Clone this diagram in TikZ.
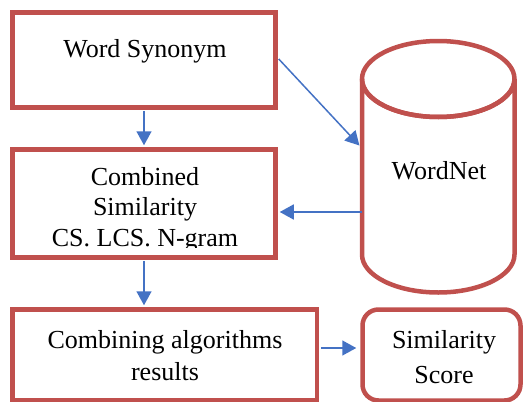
\documentclass[tikz,border=0pt]{standalone}
\usepackage{fontspec}
\setmainfont{Liberation Serif}
\usetikzlibrary{arrows.meta}
\definecolor{boxred}{RGB}{192,80,77}
\definecolor{flowblue}{RGB}{68,114,196}
\begin{document}
\begin{tikzpicture}[x=1pt,y=-1pt,
  frame/.style={draw=boxred,line width=4.5pt,fill=white,inner sep=0pt,minimum width=#1},
  lbl/.style={anchor=base,inner sep=0pt,font=\fontsize{26}{31}\selectfont},
  flow/.style={draw=flowblue,line width=1.5pt,shorten >=2pt,-{Triangle[length=14pt,width=15pt]}}]
\useasboundingbox (0,0) rectangle (523,402);

% process boxes
\node (syn) [frame=263pt,minimum height=95pt] at (144,60) {};
\node (comb) [frame=263pt,minimum height=108pt] at (144,203.5) {};
\node (res) [frame=304.5pt,minimum height=91pt] at (164.75,355) {};
\node (score) [frame=158pt,minimum height=91pt,rounded corners=16pt] at (441.5,355) {};

% WordNet database drum
\draw[boxred,line width=4.5pt,fill=white]
  (362,79) -- (362,254.5) arc[start angle=180,end angle=360,x radius=76.25,y radius=-38]
  -- (514.5,79) arc[start angle=0,end angle=360,x radius=76.25,y radius=-38];
\draw[boxred,line width=4.5pt] (362,79) arc[start angle=180,end angle=360,x radius=76.25,y radius=-38];
\node (wn) [inner sep=0pt,minimum width=152.5pt,minimum height=213.5pt] at (438.25,167) {};

% labels
\node (tsyn) [lbl] at (145,57) {Word Synonym};
\node (tc1) [lbl] at (145,185) {Combined};
\node (tc2) [lbl] at (145,215.5) {Similarity};
\begin{scope}
  \clip (20,150) rectangle (270,247);
  \node (tc3) [lbl] at (145,246) {CS. LCS. N-gram};
\end{scope}
\node (tr1) [lbl] at (165,348) {Combining algorithms};
\node (tr2) [lbl] at (165,380) {results};
\node (ts1) [lbl] at (444,348) {Similarity};
\node (ts2) [lbl] at (444,383) {Score};
\node (twn) [lbl] at (439,179) {WordNet};

% connectors
\coordinate (wnin) at ([yshift=20pt,xshift=-1pt]wn.west);
\coordinate (wnout) at ([yshift=-45pt]wn.west);
\coordinate (resout) at ([yshift=7pt,xshift=2pt]res.east);
\coordinate (scorein) at ([yshift=7pt,xshift=-2pt]score.west);
\draw[flow] ([yshift=-1pt]syn.south) -- (comb.north);
\draw[flow] ([yshift=1pt,xshift=1pt]syn.east) -- (wnin);
\draw[flow] (wnout) -- (wnout -| comb.east);
\draw[flow] ([yshift=-1pt]comb.south) -- (comb.south |- res.north);
\draw[flow] (resout) -- (scorein);
\end{tikzpicture}
\end{document}
